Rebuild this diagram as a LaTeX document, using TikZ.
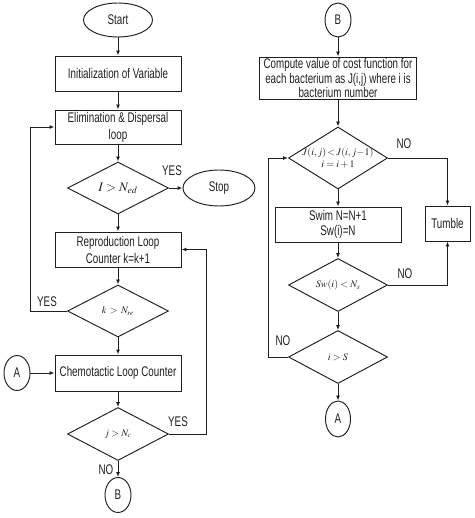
\documentclass[tikz,border=0pt]{standalone}
\usepackage{mathptmx}
\usepackage[no-math]{fontspec}
\setmainfont{Liberation Sans}[FakeStretch=0.70]
\usetikzlibrary{shapes.geometric,arrows.meta}
\begin{document}
\begin{tikzpicture}[x=1pt,y=-1pt,
  line width=0.95pt, color=black!88,
  box/.style={draw, rectangle, inner sep=0pt, align=center, minimum width=126, font=\fontsize{14}{17}\selectfont},
  dia/.style={draw, diamond, inner sep=0pt},
  oval/.style={draw, ellipse, inner sep=0pt, font=\fontsize{14}{15}\selectfont},
  lbl/.style={font=\fontsize{14}{15}\selectfont, inner sep=0pt},
  mt/.style={inner sep=0pt, align=center, font=\fontsize{11}{13}\selectfont},
  arr/.style={-{Latex[length=5pt,width=4pt]}}
]
\useasboundingbox (0,0) rectangle (474,518);
% left column
\node[oval, minimum width=69, minimum height=34] (start) at (118,20) {Start};
\node[box, minimum height=35] (init) at (118,73.5) {Initialization of Variable};
\node[box, minimum height=34] (elim) at (118,127) {Elimination \& Dispersal\\loop};
\node[dia, minimum width=101, minimum height=52] (d1) at (118,188) {};
\node[mt, font=\fontsize{13}{14}\selectfont] (d1t) at (118,188) {$I > N_{ed}$};
\node[oval, minimum width=72, minimum height=36] (stop) at (219,188) {Stop};
\node[box, minimum height=35] (rep) at (118,249.5) {Reproduction Loop\\Counter k=k+1};
\node[dia, minimum width=101, minimum height=52] (d2) at (118,311) {};
\node[mt, font=\fontsize{10}{12}\selectfont] (d2t) at (118,311) {$k\, >\, N_{re}$};
\node[box, minimum height=36] (chem) at (118,373) {Chemotactic Loop Counter};
\node[oval, minimum width=26, minimum height=35] (al) at (17,373) {A};
\node[dia, minimum width=101, minimum height=53] (d3) at (118,434) {};
\node[mt, font=\fontsize{10}{12}\selectfont] (d3t) at (118,434) {$j > N_c$};
\node[oval, minimum width=26, minimum height=35] (bb) at (118,495) {B};
\draw[arr] (start) -- (init);
\draw[arr] (init) -- (elim);
\draw[arr] (elim) -- (d1);
\draw[arr] (d1) -- (stop);
\draw[arr] (d1) -- (rep);
\draw[arr] (rep) -- (d2);
\draw[arr] (d2) -- (chem);
\draw[arr] (al) -- (chem);
\draw[arr] (chem) -- (d3);
\draw[arr] (d3) -- (bb);
\draw[arr] (d2.west) -- ++(-37,0) |- (elim.west);
\draw[arr] (d3.east) -- ++(37,0) |- (rep.east);
\node[lbl] (y1) at (172,171) {YES};
\node[lbl] (y2) at (47,302) {YES};
\node[lbl] (y3) at (178,422) {YES};
\node[lbl] (n1) at (106,470) {NO};
% right column
\node[oval, minimum width=26, minimum height=34] (bt) at (338,20) {B};
\node[box, minimum width=157, minimum height=42, font=\fontsize{14}{14.5}\selectfont] (comp) at (338,78) {Compute value of cost function for\\each bacterium as J(i,j) where i is\\bacterium number};
\node[dia, minimum width=99, minimum height=62] (d4) at (338,158) {};
\node[mt, font=\fontsize{10}{12}\selectfont] (d4t) at (338,158) {$J(i,j)\!<\!J(i,j\!-\!1)$\\$i=i+1$};
\node[box, minimum height=35, font=\fontsize{14}{15}\selectfont] (swim) at (338,224.5) {Swim N=N+1\\Sw(i)=N};
\node[box, minimum width=45, minimum height=35] (tumble) at (447.5,223.5) {Tumble};
\node[dia, minimum width=99, minimum height=53] (d5) at (338,285) {};
\node[mt, font=\fontsize{10}{12}\selectfont] (d5t) at (338,285) {$Sw(i) < N_s$};
\node[dia, minimum width=99, minimum height=53] (d6) at (338,357) {};
\node[mt, font=\fontsize{10}{12}\selectfont] (d6t) at (338,357) {$i > S$};
\node[oval, minimum width=25, minimum height=36] (at) at (338,419) {A};
\draw[arr] (bt) -- (comp);
\draw[arr] (comp) -- (d4);
\draw[arr] (d4) -- (swim);
\draw[arr] (swim) -- (d5);
\draw[arr] (d5) -- (d6);
\draw[arr] (d6) -- (at);
\draw[arr] (d4.east) -| (tumble.north);
\draw[arr] (d5.east) -| (tumble.south);
\draw[arr] (d6.west) -- ++(-20,0) |- (d4.west);
\node[lbl] (n2) at (404,144) {NO};
\node[lbl] (n3) at (405,274) {NO};
\node[lbl] (n4) at (283,341) {NO};
\end{tikzpicture}
\end{document}
